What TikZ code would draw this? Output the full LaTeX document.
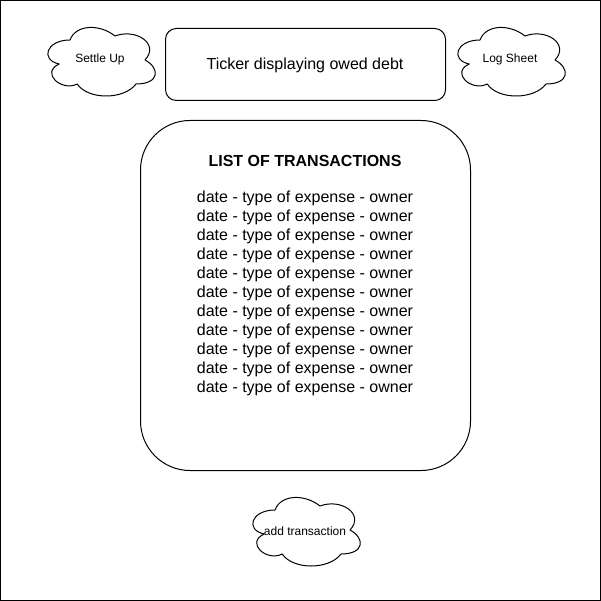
\documentclass[tikz,border=0pt]{standalone}
\usepackage{fontspec}
\setmainfont{Liberation Sans}
\begin{document}
\begin{tikzpicture}[x=1pt,y=-1pt,line width=1pt,
  boxstyle/.style={draw=black,fill=white,rounded corners=#1},
  cloudtext/.style={font=\fontsize{12}{14}\selectfont,inner sep=0pt},
  bigtext/.style={font=\fontsize{16}{19}\selectfont,inner sep=0pt,align=center},
  cloudline/.style={draw=black,fill=white,line join=round}]
\useasboundingbox (0,0) rectangle (601,601);
\draw[line width=1pt] (0.5,0.5) rectangle (600.5,600.5);
% clouds
\foreach \cx/\cy/\nm in {40/20/c1, 450/20/c2, 245/490/c3}{
  \begin{scope}[shift={(\cx pt,-\cy pt)},x=120pt,y=-80pt]
    \path[cloudline] (0.25,0.25) .. controls (0.05,0.25) and (0,0.5) .. (0.16,0.55)
      .. controls (0,0.66) and (0.18,0.9) .. (0.31,0.8)
      .. controls (0.4,1) and (0.7,1) .. (0.8,0.8)
      .. controls (1,0.8) and (1,0.6) .. (0.875,0.5)
      .. controls (1,0.3) and (0.8,0.1) .. (0.625,0.2)
      .. controls (0.5,0.05) and (0.3,0.05) .. (0.25,0.25) -- cycle;
  \end{scope}
}
\node[cloudtext] (settle) at (100,59) {Settle Up};
\node[cloudtext] (log) at (510,59) {Log Sheet};
\node[cloudtext] (add) at (305,531) {add transaction};
% ticker
\draw[boxstyle=10.8pt] (165.5,28.5) rectangle (445.5,100.5);
\node[bigtext] (ticker) at (305,65) {Ticker displaying owed debt};
% list box
\draw[boxstyle=49.5pt] (140.5,120.5) rectangle (470.5,470.5);
\node[bigtext,font=\fontsize{16}{19}\selectfont\bfseries] (title) at (305,161) {LIST OF TRANSACTIONS};
\node[bigtext,anchor=north] (list) at (305,190) {date - type of expense - owner\\date - type of expense - owner\\date - type of expense - owner\\date - type of expense - owner\\date - type of expense - owner\\date - type of expense - owner\\date - type of expense - owner\\date - type of expense - owner\\date - type of expense - owner\\date - type of expense - owner\\date - type of expense - owner};
\end{tikzpicture}
\end{document}
